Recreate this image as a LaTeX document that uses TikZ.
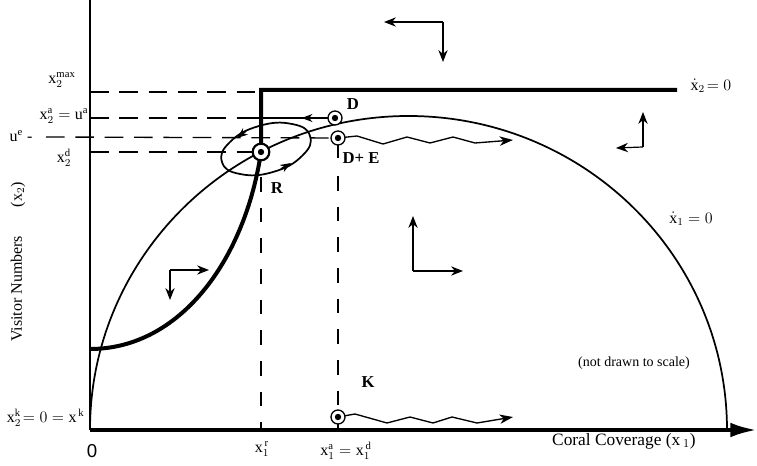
\documentclass[tikz,border=0pt]{standalone}
\usepackage{fontspec}
\setmainfont{Liberation Serif}
\setsansfont{Liberation Sans}
\usepackage{amsmath}
\usetikzlibrary{positioning, arrows.meta, decorations.markings, calc}

\begin{document}
\begin{tikzpicture}[x=0.75pt, y=-0.75pt, font=\fontsize{12}{14}\selectfont,
    every node/.style={inner sep=1pt},
    axe/.style={line width=3pt},
    trait/.style={line width=3pt},
    courbe/.style={line width=1.3pt},
    tirets/.style={line width=1.3pt, dash pattern=on 14pt off 8pt},
    tiretsfins/.style={line width=0.8pt, dash pattern=on 11pt off 12pt},
    fleche/.style={line width=0.9pt, -{Stealth[length=9pt, width=7pt, inset=3pt]}},
    pointe/.style={line width=1.3pt, -{Stealth[length=8pt, width=6pt, inset=2.5pt]}},
    vague/.style={line width=1pt, -{Stealth[length=10pt, width=7pt, inset=3pt]}},
    oeil/.style={circle, draw, line width=1pt, minimum size=10.5pt, inner sep=0pt, fill=white,
        path picture={\fill[black] (path picture bounding box.center) circle (2.4pt);}},
    etiq/.style={font=\bfseries\fontsize{12.5}{14}\selectfont}]
    \useasboundingbox (0,0) rectangle (757,466);

    % Axes
    \coordinate (origin) at (90,430);
    \coordinate (ytop) at (90,0);
    \coordinate (xend) at (757,430);
    \coordinate (pR) at (261,152);
    \coordinate (pD) at (335,118);
    \coordinate (pDE) at (338,138);
    \coordinate (pK) at (338,417);
    \coordinate (corner) at (261,90);
    \draw[line width=1.5pt] (origin) -- (ytop);
    \draw[axe, -{Latex[length=20pt, width=11pt]}] (origin) -- (xend);

    % Courbes
    \draw[courbe] (origin) arc[start angle=180, end angle=360, x radius=318.5, y radius=314];
    \draw[trait] (90,349) .. controls (180,349) and (245,260) .. (pR) -- (corner) -- (677,90);
    \draw[courbe] plot[smooth cycle, tension=0.8] coordinates {(259,126) (230,142) (222,162) (240,174)
            (273,172) (302,156) (310,136) (292,124)};
    \draw[pointe] (246,131) -- (237,138);
    \draw[pointe] (281,169) -- (291,163);

    % Tirets
    \draw[tirets] (90,92) -- (255,92);
    \draw[tirets, line width=1pt] (90,118) -- (240,118);
    \draw[tirets, line width=1pt] (46,137) -- (pDE);
    \draw[tirets, line width=1pt] (90,152) -- (pR);
    \draw[tiretsfins] (pR) ++(0,25) -- (261,430);
    \draw[line width=0.8pt] (pDE) -- ++(0,20);
    \draw[tiretsfins] (pDE) ++(0,38) -- (pK);
    \draw[line width=0.8pt] (pK) -- (338,430);

    % Trajectoires
    \draw[line width=1pt, decoration={markings, mark=at position 0.35 with {\arrow{Stealth[length=8pt, width=6pt, inset=2.5pt]}}},
        postaction={decorate}] (pD) -- (240,118);
    \draw[vague] (pDE) -- (357,136) -- (383,144) -- (407,137) -- (430,143) -- (453,137) -- (475,143) -- (513,140);
    \draw[vague] (pK) -- (355,414) -- (387,423) -- (410,417) -- (433,423) -- (452,417) -- (477,423) -- (513,417);

    % Points
    \node (R) [oeil, minimum size=12.5pt, line width=1.6pt] at (pR) {};
    \node (D) [oeil] at (pD) {};
    \node (DE) [oeil] at (pDE) {};
    \node (K) [oeil] at (pK) {};

    % Directions
    \draw[fleche] (443,22) -- (384,22);
    \draw[fleche] (443,22) -- (443,62);
    \draw[fleche] (643,147) -- (643,112);
    \draw[fleche] (643,147) -- (616,148);
    \draw[fleche] (413,271) -- (413,216);
    \draw[fleche] (413,271) -- (463,271);
    \draw[fleche] (170,270) -- (209,270);
    \draw[fleche] (170,270) -- (170,300);

    % Etiquettes
    \node (lmax) at (62,80) {$\mathrm{x}_2^{\mathrm{max}}$};
    \node (la) [anchor=east] at (90,116) {$\mathrm{x}_2^{\mathrm{a}} = \mathrm{u}^{\mathrm{a}}$};
    \node (le) [anchor=east] at (34,136) {$\mathrm{u}^{\mathrm{e}}$ -};
    \node (ld) at (64,158) {$\mathrm{x}_2^{\mathrm{d}}$};
    \node (lk) [anchor=east] at (86,418) {$\mathrm{x}_2^{\mathrm{k}}\!= 0 = \mathrm{x}^{\,\mathrm{k}}$};
    \node (lzero) at (92,451) {\sffamily\fontsize{14}{16}\selectfont 0};
    \node (lr) at (262,449) {$\mathrm{x}_1^{\,\mathrm{r}}$};
    \node (lad) at (346,451) {$\mathrm{x}_1^{\mathrm{a}} = \mathrm{x}_1^{\,\mathrm{d}}$};
    \node (lx1) at (624,441) {\fontsize{13}{15}\selectfont Coral Coverage (x\,$_1$)};
    \node (lx2) [rotate=90] at (18,262) {Visitor Numbers\hspace{1.8em}(x$_2$)};
    \node (lscale) at (634,363) {\fontsize{10.5}{12}\selectfont (not drawn to scale)};
    \node (ldot1) at (691,219) {$\dot{\mathrm{x}}_1 = 0$};
    \node (ldot2) at (711,86) {$\dot{\mathrm{x}}_2\!= 0$};
    \node (lD) [etiq] at (353,104) {D};
    \node (lDE) [etiq] at (361,158) {D+ E};
    \node (lR) [etiq] at (277,188) {R};
    \node (lK) [etiq] at (368,382) {K};
\end{tikzpicture}
\end{document}
